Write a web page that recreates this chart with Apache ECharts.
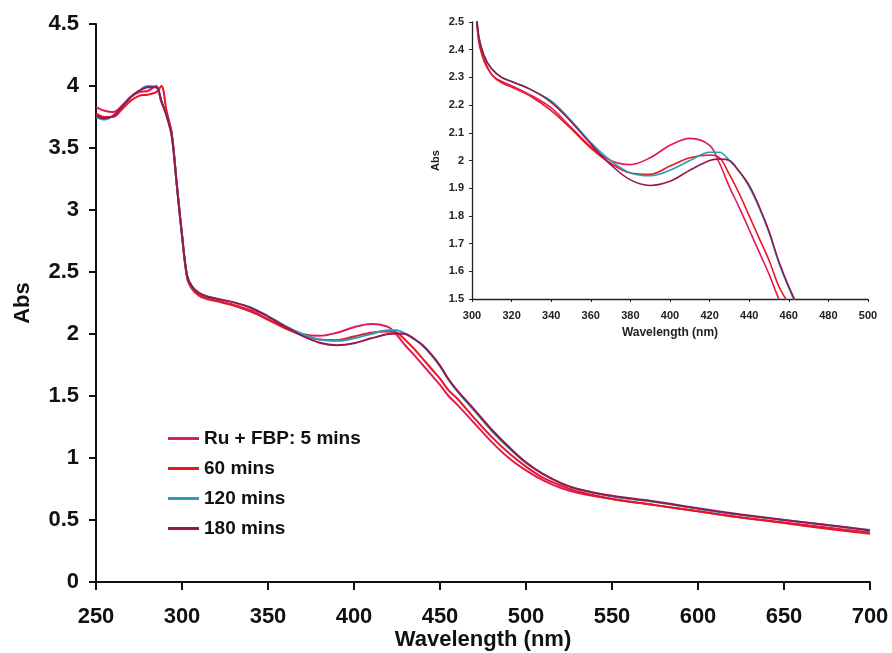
<!DOCTYPE html>
<html>
<head>
<meta charset="utf-8">
<script src="https://cdn.jsdelivr.net/npm/echarts@6/dist/echarts.min.js"></script>
<style>
  html, body { margin: 0; padding: 0; background: #fff; }
  #chart { width: 892px; height: 653px; }
</style>
</head>
<body>
<div id="chart"></div>
<script>
// wavelengths (nm)
var wavelength = [250,255,260,265,270,275,280,285,288,291,294,297,300,303,306,310,315,320,330,340,
  350,360,370,380,390,400,410,420,425,430,435,440,445,450,455,460,470,480,490,500,
  510,520,530,550,575,600,625,650,675,700]

var seriesNames = ['Ru + FBP: 5 mins', '60 mins', '120 mins', '180 mins']

var abs5 = [3.83,3.80,3.79,3.84,3.91,3.95,3.96,4.00,3.87,3.77,3.62,3.20,2.80,2.46,2.37,2.31,2.285,2.27,2.235,2.19,
  2.12,2.05,2.00,1.985,2.01,2.055,2.08,2.055,1.99,1.905,1.83,1.75,1.67,1.59,1.50,1.43,1.28,1.13,1.00,0.90,
  0.82,0.76,0.72,0.67,0.62,0.57,0.52,0.48,0.44,0.40]
var abs60 = [3.78,3.75,3.75,3.81,3.88,3.92,3.93,3.95,4.00,3.80,3.62,3.20,2.80,2.45,2.36,2.31,2.28,2.265,2.23,2.18,
  2.115,2.045,1.99,1.955,1.95,1.98,2.01,2.02,2.01,1.95,1.88,1.80,1.72,1.64,1.545,1.48,1.32,1.17,1.04,0.93,
  0.84,0.78,0.73,0.67,0.62,0.57,0.52,0.475,0.43,0.39]
var abs120 = [3.75,3.73,3.76,3.83,3.91,3.96,4.00,3.99,3.88,3.76,3.60,3.20,2.80,2.47,2.38,2.33,2.30,2.285,2.255,2.215,
  2.145,2.065,2.00,1.955,1.945,1.965,2.00,2.03,2.03,2.00,1.96,1.905,1.83,1.74,1.63,1.54,1.38,1.22,1.08,0.96,
  0.87,0.80,0.75,0.69,0.645,0.59,0.54,0.50,0.46,0.42]
var abs180 = [3.76,3.74,3.76,3.83,3.91,3.96,3.99,3.99,3.88,3.76,3.60,3.20,2.80,2.47,2.38,2.33,2.30,2.285,2.255,2.21,
  2.14,2.06,1.985,1.93,1.91,1.925,1.965,2.00,2.005,2.00,1.96,1.91,1.835,1.745,1.635,1.545,1.39,1.23,1.09,0.965,
  0.87,0.80,0.75,0.695,0.65,0.595,0.545,0.50,0.46,0.415]

var mainTicks = { min: 250, max: 700, interval: 50 }
var insetTicks = { min: 300, max: 500, interval: 20 }

var colors = ['#e5175f', '#e8161f', '#2e9cb4', '#981650']
var allAbs = [abs5, abs60, abs120, abs180]

function pairs(ys) {
  return wavelength.map(function (w, i) { return [w, ys[i]] })
}

var font = 'Liberation Sans, Arial, sans-serif'
var series = []
allAbs.forEach(function (ys, i) {
  series.push({
    name: seriesNames[i], type: 'line', xAxisIndex: 0, yAxisIndex: 0,
    data: pairs(ys), symbol: 'none', smooth: 0.35,
    lineStyle: { color: colors[i], width: 2 }, itemStyle: { color: colors[i] }
  })
  // inset, zoomed on the 300-500 nm band
  series.push({
    name: seriesNames[i], type: 'line', xAxisIndex: 1, yAxisIndex: 1,
    data: pairs(ys), symbol: 'none', smooth: 0.35, clip: true,
    lineStyle: { color: colors[i], width: 1.6 }, itemStyle: { color: colors[i] }
  })
})

var chart = echarts.init(document.getElementById('chart'), null, { renderer: 'canvas' })
chart.setOption({
  animation: false,
  backgroundColor: '#fff',
  textStyle: { fontFamily: font },
  grid: [
    { left: 96, right: 22, top: 24, bottom: 71, outerBoundsMode: 'none' },
    { left: 472, right: 24, top: 22, bottom: 354, outerBoundsMode: 'none' }
  ],
  legend: {
    data: seriesNames,
    orient: 'vertical',
    left: 168, top: 429, padding: 0,
    itemWidth: 31, itemHeight: 3, itemGap: 11,
    icon: 'rect',
    textStyle: { fontFamily: font, fontWeight: 'bold', fontSize: 19, lineHeight: 19, color: '#111' }
  },
  xAxis: [
    {
      type: 'value', gridIndex: 0, min: mainTicks.min, max: mainTicks.max, interval: mainTicks.interval,
      name: 'Wavelength (nm)', nameLocation: 'middle', nameGap: 47, nameMoveOverlap: false,
      nameTextStyle: { fontFamily: font, fontWeight: 'bold', fontSize: 22, color: '#111' },
      axisLine: { onZero: false, lineStyle: { color: '#111', width: 2 } },
      axisTick: { inside: false, length: 8, lineStyle: { color: '#111', width: 2 } },
      axisLabel: { fontFamily: font, fontWeight: 'bold', fontSize: 22, color: '#111', margin: 24 },
      splitLine: { show: false }
    },
    {
      type: 'value', gridIndex: 1, min: insetTicks.min, max: insetTicks.max, interval: insetTicks.interval,
      name: 'Wavelength (nm)', nameLocation: 'middle', nameGap: 28,
      nameTextStyle: { fontFamily: font, fontWeight: 'bold', fontSize: 12, color: '#222' },
      axisLine: { onZero: false, lineStyle: { color: '#222', width: 1.3 } },
      axisTick: { length: 3, lineStyle: { color: '#222' } },
      axisLabel: { fontFamily: font, fontWeight: 'bold', fontSize: 11, color: '#222', margin: 11 },
      splitLine: { show: false }
    }
  ],
  yAxis: [
    {
      type: 'value', gridIndex: 0, min: 0, max: 4.5, interval: 0.5,
      name: 'Abs', nameLocation: 'middle', nameGap: 62,
      nameTextStyle: { fontFamily: font, fontWeight: 'bold', fontSize: 22, color: '#111' },
      axisLine: { show: true, lineStyle: { color: '#111', width: 2 } },
      axisTick: { show: true, length: 7, lineStyle: { color: '#111', width: 2 } },
      axisLabel: { fontFamily: font, fontWeight: 'bold', fontSize: 22, color: '#111', margin: 17 },
      splitLine: { show: false }
    },
    {
      type: 'value', gridIndex: 1, min: 1.5, max: 2.5, interval: 0.1,
      name: 'Abs', nameLocation: 'middle', nameGap: 31,
      nameTextStyle: { fontFamily: font, fontWeight: 'bold', fontSize: 11, color: '#222' },
      axisLine: { show: true, lineStyle: { color: '#222', width: 1.3 } },
      axisTick: { show: true, length: 3, lineStyle: { color: '#222' } },
      axisLabel: { fontFamily: font, fontWeight: 'bold', fontSize: 11, color: '#222', margin: 8 },
      splitLine: { show: false }
    }
  ],
  series: series
})
</script>
</body>
</html>
